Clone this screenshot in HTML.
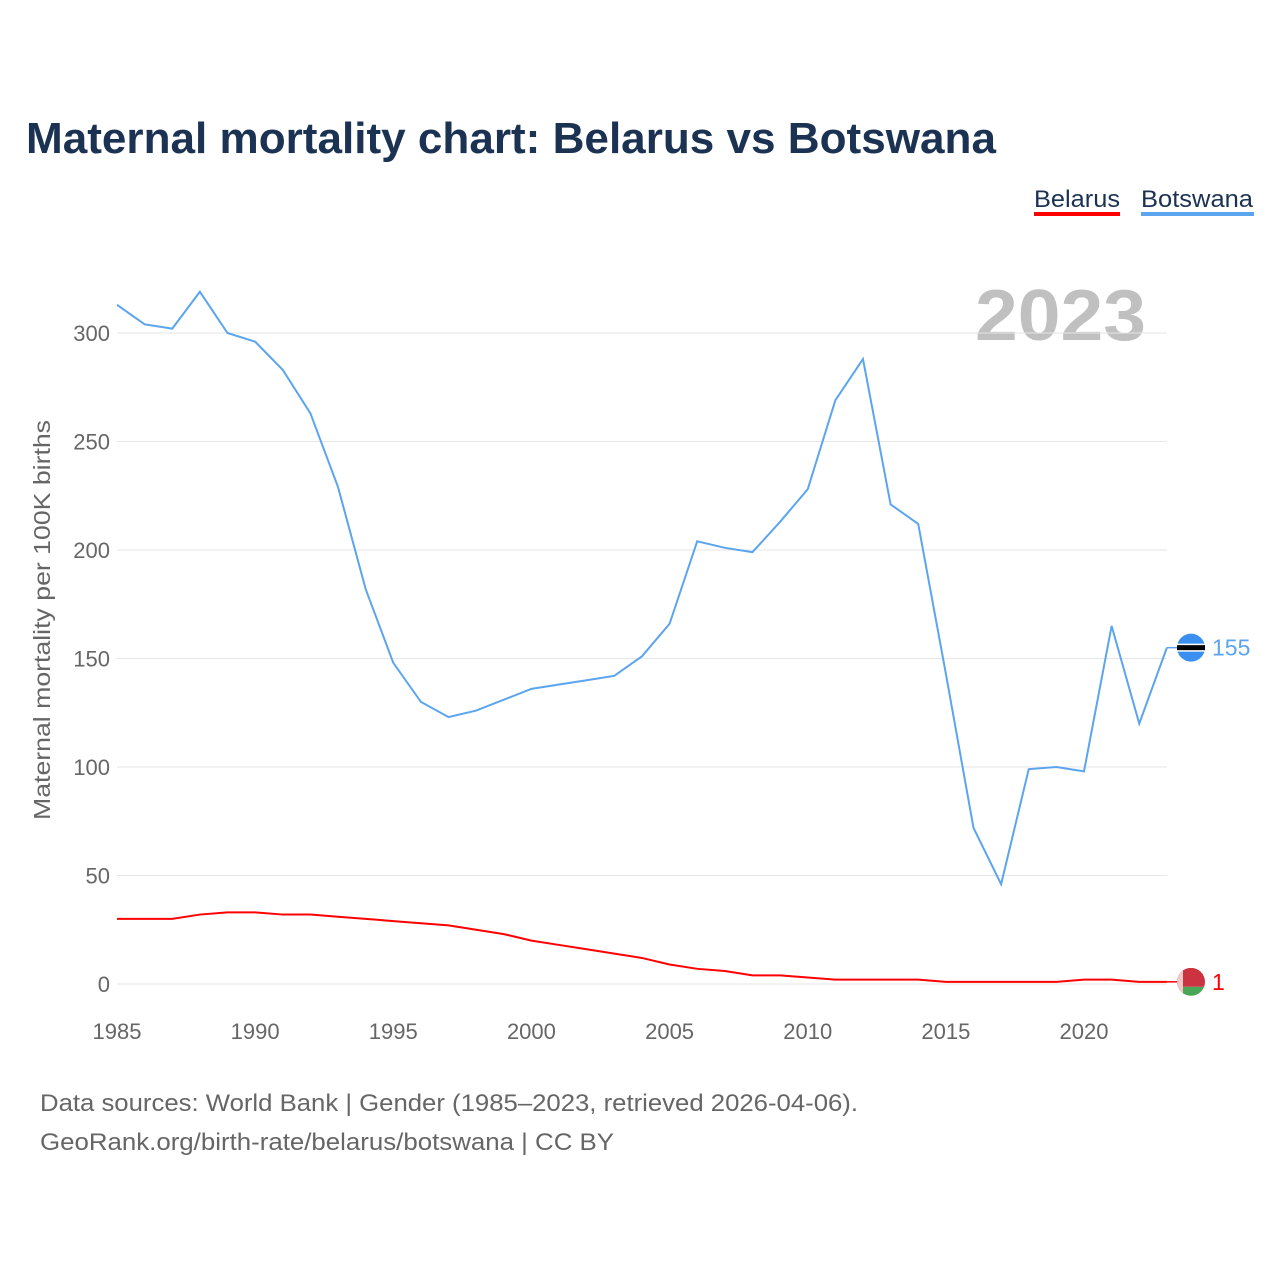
<!DOCTYPE html>
<html><head><meta charset="utf-8"><style>
body{margin:0;background:#fff;width:1280px;height:1280px;overflow:hidden;font-family:"Liberation Sans",sans-serif}
</style></head><body>
<svg width="1280" height="1280" xmlns="http://www.w3.org/2000/svg">
<text x="26" y="153" font-size="44" font-weight="bold" fill="#1b3252" textLength="970" lengthAdjust="spacingAndGlyphs">Maternal mortality chart: Belarus vs Botswana</text>
<g>
<text x="1034" y="207" font-size="24" fill="#1b3252" textLength="86" lengthAdjust="spacingAndGlyphs">Belarus</text>
<rect x="1034" y="212" width="86" height="4" fill="#ff0000"/>
<text x="1141" y="207" font-size="24" fill="#1b3252" textLength="112" lengthAdjust="spacingAndGlyphs">Botswana</text>
<rect x="1141" y="212" width="113" height="4" fill="#5ba5ee"/>
</g>
<text x="975" y="340" font-size="72" font-weight="bold" fill="#c0c0c0" textLength="171" lengthAdjust="spacingAndGlyphs">2023</text>
<g id="grid"></g><g id="axes"></g><g id="lines"></g>
<text transform="translate(50,620) rotate(-90)" font-size="23" fill="#666" text-anchor="middle" textLength="400" lengthAdjust="spacingAndGlyphs">Maternal mortality per 100K births</text>
<text x="40" y="1111" font-size="24" fill="#666" textLength="818" lengthAdjust="spacingAndGlyphs">Data sources: World Bank | Gender (1985–2023, retrieved 2026-04-06).</text>
<text x="40" y="1150" font-size="24" fill="#666" textLength="574" lengthAdjust="spacingAndGlyphs">GeoRank.org/birth-rate/belarus/botswana | CC BY</text>
</svg>
<script>
const years=[];for(let y=1985;y<=2023;y++)years.push(y);
const botswana=[313,304,302,319,300,296,283,263,229,182,148,130,123,126,131,136,138,140,142,151,166,204,201,199,213,228,269,288,221,212,143,72,46,99,100,98,165,120,155];
const belarus=[30,30,30,32,33,33,32,32,31,30,29,28,27,25,23,20,18,16,14,12,9,7,6,4,4,3,2,2,2,2,1,1,1,1,1,2,2,1,1];
const yTicks=[0,50,100,150,200,250,300];
const xTicks=[1985,1990,1995,2000,2005,2010,2015,2020];
const NS="http://www.w3.org/2000/svg";
const X=v=>117+(v-1985)*(1084-117)/35;
const Y=v=>984-v*651/300;
function mk(t,a,p){const e=document.createElementNS(NS,t);for(const k in a)e.setAttribute(k,a[k]);p.appendChild(e);return e;}
const g=document.getElementById('grid'),ax=document.getElementById('axes'),ln=document.getElementById('lines');
yTicks.forEach(v=>{const l=mk('line',{x1:117,x2:1167,y1:Y(v),y2:Y(v),stroke:'#e6e6e6','stroke-width':1},g);


const t=mk('text',{x:110,y:Y(v)+8,'font-size':22,fill:'#666','text-anchor':'end'},ax);t.textContent=v;

});
xTicks.forEach(v=>{const t=mk('text',{x:X(v),y:1039,'font-size':22,fill:'#666','text-anchor':'middle'},ax);t.textContent=v;

});
function line(d,c,name){const p=mk('polyline',{points:d.map((v,i)=>X(years[i])+','+Y(v)).join(' '),fill:'none',stroke:c,'stroke-width':2},ln);

}
line(belarus,'#ff0000','belarus-line');line(botswana,'#5ba5ee','botswana-line');
const lx=X(2023);
let yb=Y(botswana[botswana.length-1]);
mk('line',{x1:lx,x2:1180,y1:yb,y2:yb,stroke:'#5ba5ee','stroke-width':1.5},ln);
const fb=mk('g',{},ln);


mk('circle',{cx:1191,cy:yb,r:14,fill:'#3a8ff0'},fb);
mk('rect',{x:1177,y:yb-4,width:28,height:8,fill:'#fff'},fb);
mk('rect',{x:1177,y:yb-2.5,width:28,height:5,fill:'#000'},fb);
let tb=mk('text',{x:1212,y:yb+8,'font-size':23,fill:'#5ba5ee'},ln);tb.textContent=botswana[botswana.length-1];


let yr=Y(belarus[belarus.length-1]);
mk('line',{x1:lx,x2:1180,y1:yr,y2:yr,stroke:'#ff0000','stroke-width':1.5},ln);
const fr=mk('g',{},ln);


mk('clipPath',{id:'cp'},fr);
mk('circle',{cx:1191,cy:yr,r:14},document.getElementById('cp'));
mk('rect',{x:1177,y:yr-14,width:28,height:19,fill:'#cc3340','clip-path':'url(#cp)'},fr);
mk('rect',{x:1177,y:yr+5,width:28,height:9,fill:'#4aa657','clip-path':'url(#cp)'},fr);
mk('rect',{x:1177,y:yr-14,width:6,height:28,fill:'#f2c7c7','clip-path':'url(#cp)'},fr);
let tr=mk('text',{x:1212,y:yr+8,'font-size':23,fill:'#ff0000'},ln);tr.textContent=belarus[belarus.length-1];


</script>
</body></html>
